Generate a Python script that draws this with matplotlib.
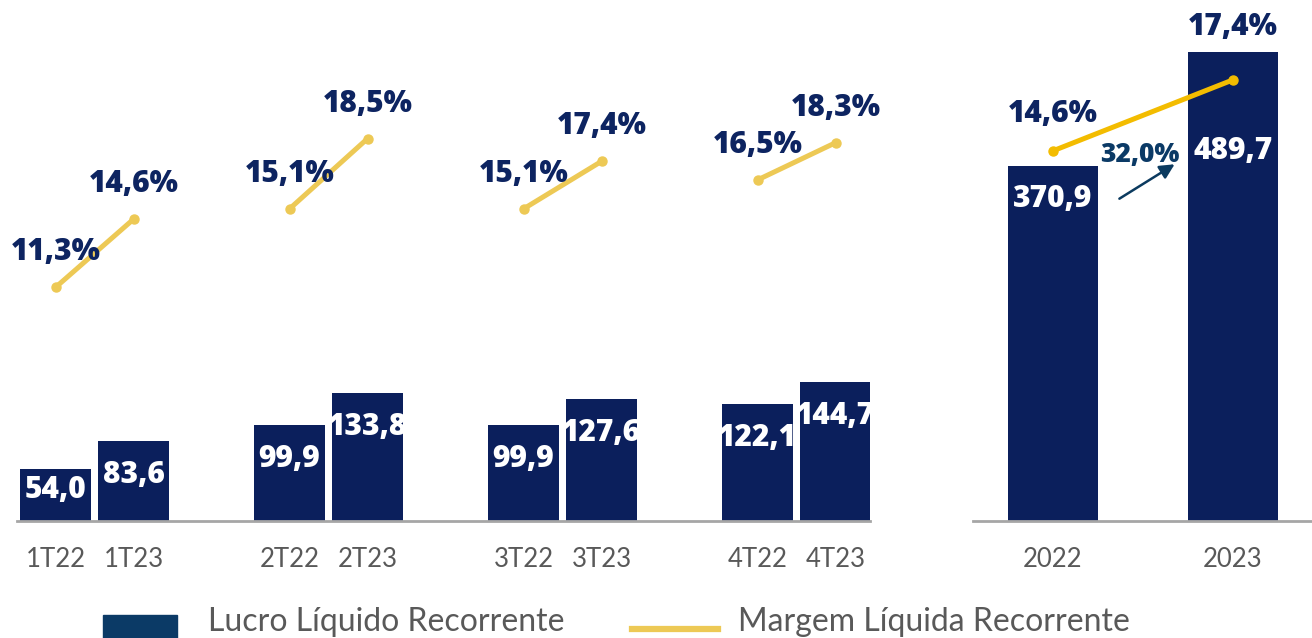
import matplotlib.pyplot as plt

plt.rcParams['font.family'] = ['Lato', 'DejaVu Sans']

# quarterly data
quarters = ["1T22", "1T23", "2T22", "2T23", "3T22", "3T23", "4T22", "4T23"]
lucro_q = [54.0, 83.6, 99.9, 133.8, 99.9, 127.6, 122.1, 144.7]
margem_q = [11.3, 14.6, 15.1, 18.5, 15.1, 17.4, 16.5, 18.3]

# annual data
years = ["2022", "2023"]
lucro_y = [370.9, 489.7]
margem_y = [14.6, 17.4]

NAVY = "#0b1f5c"
NAVY_TXT = "#0d2461"
GREY_TXT = "#595959"
YELLOW_Q = "#edc955"
YELLOW_Y = "#f3bc00"
BASE = "#a6a6a6"
BOLD = dict(family=["Open Sans", "DejaVu Sans"], fontweight=800)
FS = 21.5


def fmt(v, pct=False):
    s = f"{v:.1f}".replace(".", ",")
    return s + "%" if pct else s


def style(ax):
    for side in ["top", "left", "right"]:
        ax.spines[side].set_visible(False)
    ax.spines["bottom"].set_color(BASE)
    ax.spines["bottom"].set_linewidth(2)
    ax.set_yticks([])
    ax.tick_params(axis="x", length=0, pad=19, labelsize=18.5,
                   labelcolor=GREY_TXT)


fig = plt.figure(figsize=(13.12, 6.38), dpi=100)
H = 638
bottom = (H - 521) / H
height = 521 / H

# ---- quarterly panel
ax1 = fig.add_axes([17 / 1312, bottom, 853 / 1312, height])
xs = [3 * (i // 2) + (i % 2) - 0.5 for i in range(len(quarters))]
ax1.bar(xs, lucro_q, width=0.91, color=NAVY)
ax1.set_xlim(-0.994, 9.94)
ax1.set_ylim(0, 544)
ax1.set_xticks(xs, quarters)
style(ax1)
for x, v in zip(xs, lucro_q):
    off = -21 if v < 60 else -34
    ax1.annotate(fmt(v), (x, v), xytext=(0, off), textcoords="offset pixels",
                 ha="center", va="center", color="white", fontsize=FS,
                 **BOLD)

ax1b = ax1.twinx()
ax1b.set_ylim(0, 25.2)
ax1b.axis("off")
for g in range(4):
    gx = xs[2 * g:2 * g + 2]
    gm = margem_q[2 * g:2 * g + 2]
    ax1b.plot(gx, gm, color=YELLOW_Q, lw=3.6, marker="o", ms=6.5,
              solid_capstyle="round")
    for x, m in zip(gx, gm):
        ax1b.annotate(fmt(m, True), (x, m), xytext=(0, 35),
                      textcoords="offset pixels", ha="center", va="center",
                      color=NAVY_TXT, fontsize=FS, **BOLD)

# ---- annual panel
ax2 = fig.add_axes([973 / 1312, bottom, 339 / 1312, height])
yx = [0, 1]
ax2.bar(yx, lucro_y, width=0.5, color=NAVY)
ax2.set_xlim(-0.444, 1.439)
ax2.set_ylim(0, 544)
ax2.set_xticks(yx, years)
style(ax2)
for x, v, off in zip(yx, lucro_y, [-33, -99]):
    ax2.annotate(fmt(v), (x, v), xytext=(0, off), textcoords="offset pixels",
                 ha="center", va="center", color="white", fontsize=FS,
                 **BOLD)

growth = (lucro_y[1] / lucro_y[0] - 1) * 100
ax2.annotate("", xy=(0.689, 374), xytext=(0.356, 335),
             arrowprops=dict(arrowstyle="-|>", color="#0b3a5f", lw=1.8,
                             mutation_scale=22))
ax2.text(0.483, 382, fmt(growth, True), ha="center", va="center",
         color="#0b3a66", fontsize=19, **BOLD)

ax2b = ax2.twinx()
ax2b.set_ylim(0, 20.55)
ax2b.axis("off")
ax2b.plot(yx, margem_y, color=YELLOW_Y, lw=3.6, marker="o", ms=6.5,
          solid_capstyle="round")
for x, m, off in zip(yx, margem_y, [37, 53]):
    ax2b.annotate(fmt(m, True), (x, m), xytext=(0, off),
                  textcoords="offset pixels", ha="center", va="center",
                  color=NAVY_TXT, fontsize=FS, **BOLD)

# ---- legend
fig.patches.append(plt.Rectangle((103 / 1312, 0), 74 / 1312, 23 / H,
                                 transform=fig.transFigure,
                                 color="#0b3a66"))
fig.text(208 / 1312, 1 - 622 / H, "Lucro Líquido Recorrente",
         ha="left", va="center", fontsize=23, color=GREY_TXT)
fig.lines.append(plt.Line2D([632 / 1312, 718 / 1312],
                            [1 - 629 / H, 1 - 629 / H],
                            transform=fig.transFigure, color=YELLOW_Q,
                            lw=4.5))
fig.text(738 / 1312, 1 - 622 / H, "Margem Líquida Recorrente",
         ha="left", va="center", fontsize=23, color=GREY_TXT)

fig.savefig("out.png", dpi=100)
